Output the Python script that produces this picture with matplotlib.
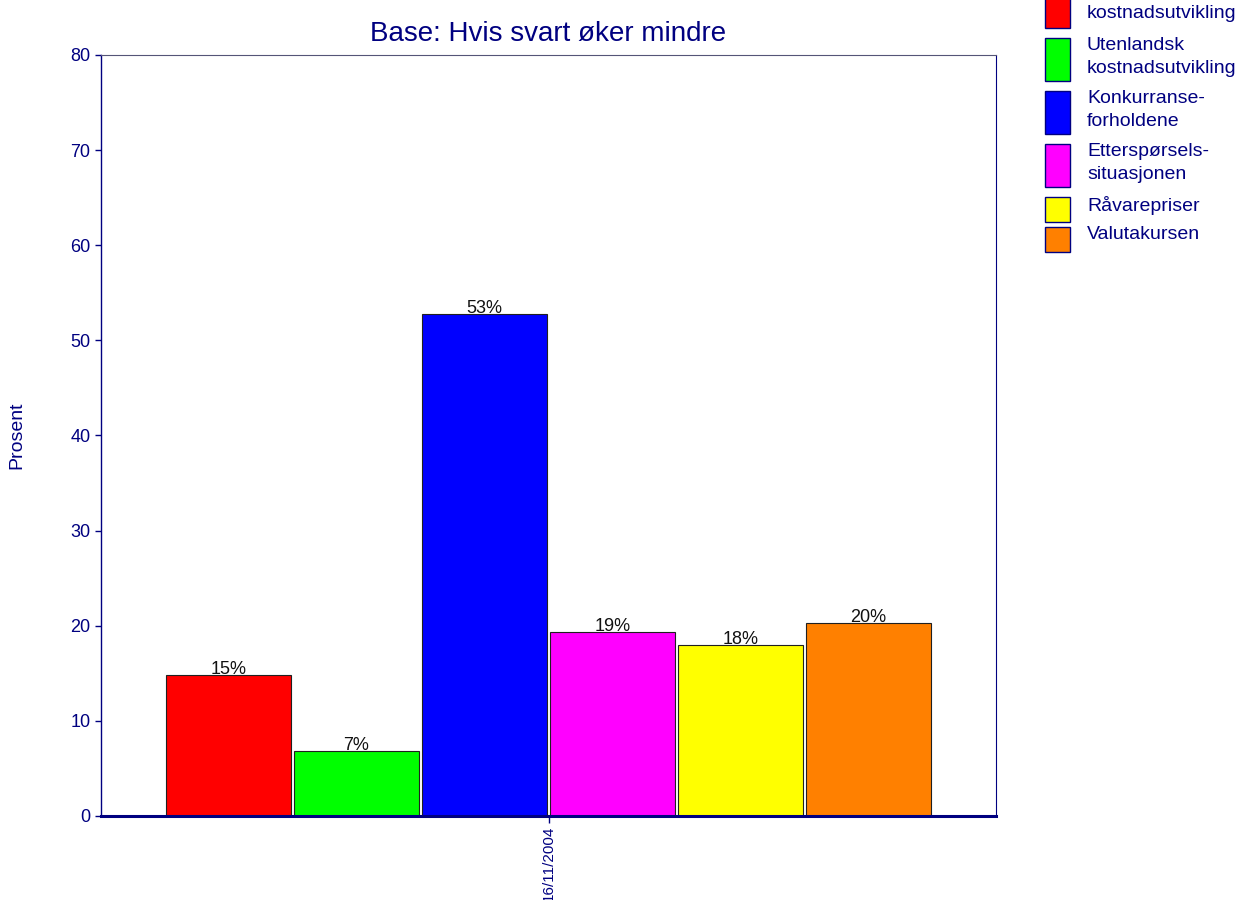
import numpy as np
import matplotlib
matplotlib.use("Agg")
import matplotlib.pyplot as plt
from matplotlib.patches import Rectangle

plt.rcParams['font.family'] = ['Liberation Sans', 'DejaVu Sans']

# data
title = 'Base: Hvis svart øker mindre'
date_label = '16/11/2004'
# first entry's upper line ("Norsk") runs off the top in the reference,
# only the visible part is kept
labels = ['kostnadsutvikling', 'Utenlandsk\nkostnadsutvikling',
          'Konkurranse-\nforholdene', 'Etterspørsels-\nsituasjonen',
          'Råvarepriser', 'Valutakursen']
values = [14.8, 6.8, 52.8, 19.3, 18.0, 20.3]
colors = ['#ff0000', '#00ff00', '#0000ff', '#ff00ff', '#ffff00', '#ff8000']

navy = '#000080'
W, H = 1240, 900

fig = plt.figure(figsize=(12.4, 9), dpi=100)
ax = fig.add_axes([101 / W, 1 - 816 / H, (996 - 101) / W, (816 - 55) / H])

n = len(values)
step = 0.143
bw = 0.14
xs = (np.arange(n) - (n - 1) / 2) * step
bars = ax.bar(xs, values, width=bw, color=colors, edgecolor='#202020', linewidth=0.8, zorder=2)
for b, v in zip(bars, values):
    ax.text(b.get_x() + b.get_width() / 2, v - 0.3, f'{round(v):d}%', ha='center', va='bottom',
            fontsize=13, color='#111111', zorder=3)

ax.set_xlim(-0.5, 0.5)
ax.set_ylim(0, 80)
ax.set_yticks(range(0, 81, 10))
ax.set_xticks([0])
ax.set_xticklabels([date_label], rotation=90, fontsize=11, color=navy)
ax.tick_params(axis='y', colors=navy, labelcolor=navy, labelsize=13, length=4, width=1)
ax.tick_params(axis='x', colors=navy, length=5, width=1, pad=2)
ax.spines['top'].set_color('#555577')
ax.spines['top'].set_linewidth(0.8)
ax.spines['right'].set_color(navy)
ax.spines['right'].set_linewidth(0.8)
ax.spines['left'].set_color(navy)
ax.spines['left'].set_linewidth(1.0)
ax.spines['bottom'].set_color(navy)
ax.spines['bottom'].set_linewidth(2.2)

ax.set_title(title, fontsize=20, color=navy, pad=10)
fig.text(17 / W, 1 - 435 / H, 'Prosent', rotation=90, ha='center', va='center',
         fontsize=14, color=navy)

# legend drawn by hand (first box runs off the top edge as in the reference)
y = -15
for i, (lab, c) in enumerate(zip(labels, colors)):
    nl = lab.count('\n') + 1
    bh = 25 if nl == 1 and i > 0 else 43
    fig.patches.append(Rectangle((1045 / W, 1 - (y + bh) / H), 25 / W, bh / H,
                                 transform=fig.transFigure, facecolor=c,
                                 edgecolor=navy, linewidth=1))
    ty = y + 20 if i == 0 else y - 1
    fig.text(1087 / W, 1 - ty / H, lab, ha='left', va='top', fontsize=14,
             color=navy, linespacing=1.45)
    y += bh + (10 if bh > 30 else 5)

fig.savefig('out.png', dpi=100)
